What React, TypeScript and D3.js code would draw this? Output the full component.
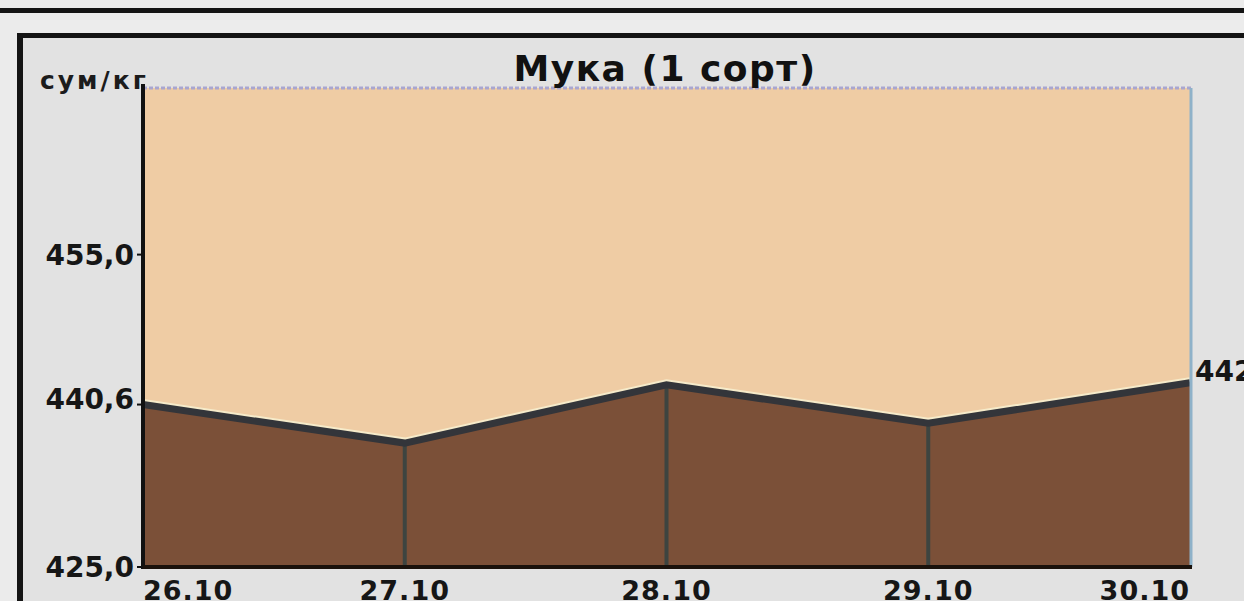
import React from 'react';
import * as d3 from 'd3';

const dates = ['26.10', '27.10', '28.10', '29.10', '30.10'];
const prices = [440.6, 436.9, 442.5, 438.8, 442.7];
const yTicks = [425.0, 440.6, 455.0];
const lastLabel = '442,7';

const W = 1244;
const H = 601;
const margin = { top: 88, right: 54, bottom: 34, left: 143 };

const fmt = (v: number) => v.toFixed(1).replace('.', ',');

const App: React.FC = () => {
  const x = d3.scalePoint<string>().domain(dates).range([margin.left, W - margin.right]);
  const y = d3.scaleLinear().domain([425, 471]).range([H - margin.bottom, margin.top]);

  const pts = dates.map((d, i) => ({ d, v: prices[i] }));

  const area = d3.area<{ d: string; v: number }>()
    .x(p => x(p.d)!)
    .y0(y(425))
    .y1(p => y(p.v));
  const line = d3.line<{ d: string; v: number }>()
    .x(p => x(p.d)!)
    .y(p => y(p.v));

  const x0 = margin.left;
  const x1 = W - margin.right;
  const yTop = margin.top;
  const yBot = H - margin.bottom;
  const font = 'DejaVu Sans, Arial, sans-serif';

  return (
    <svg width={W} height={H} style={{ position: 'absolute', left: 0, top: 0, display: 'block' }}>
      {/* paper */}
      <rect width={W} height={H} fill="#e2e2e2" />
      <rect width={W} height={34} fill="#ececec" />
      <rect x={0} y={0} width={20} height={H} fill="#ebebeb" />
      {/* frame lines */}
      <rect x={0} y={8} width={W} height={5} fill="#141414" />
      <rect x={17} y={33} width={W - 17} height={5} fill="#141414" />
      <rect x={17} y={33} width={6} height={H - 33} fill="#141414" />

      {/* plot background */}
      <rect x={x0} y={yTop} width={x1 - x0} height={yBot - yTop} fill="#efcca4" />
      <path d={area(pts) || ''} fill="#7b5038" />

      {/* drop lines */}
      {pts.slice(1, -1).map(p => (
        <line key={p.d} x1={x(p.d)} x2={x(p.d)} y1={y(p.v)} y2={yBot}
          stroke="#3d4440" strokeWidth={4} />
      ))}

      {/* series line with light halo */}
      <path d={line(pts) || ''} transform="translate(0,-3)" fill="none" stroke="#f6ebca" strokeWidth={5} />
      <path d={line(pts) || ''} fill="none" stroke="#33353a" strokeWidth={7} />

      {/* plot border */}
      <line x1={x0} x2={x1 + 2} y1={yTop} y2={yTop} stroke="#a9a6cf" strokeWidth={3} strokeDasharray="4 2" />
      <line x1={x1 + 1} x2={x1 + 1} y1={yTop} y2={yBot} stroke="#8fb2c9" strokeWidth={3} />
      <line x1={x0} x2={x0} y1={yTop - 4} y2={yBot + 2} stroke="#111" strokeWidth={4} />
      <line x1={x0} x2={x1 + 2} y1={yBot} y2={yBot} stroke="#1a120c" strokeWidth={4} />

      {/* y ticks */}
      {yTicks.map(t => (
        <g key={t}>
          <line x1={x0 - 6} x2={x0} y1={y(t)} y2={y(t)} stroke="#111" strokeWidth={2} />
          <text x={x0 - 9} y={t === yTicks[1] ? y(t) + 4 : y(t) + 10} textAnchor="end" fontFamily={font} fontWeight="bold"
            fontSize={28} fill="#161616">{fmt(t)}</text>
        </g>
      ))}

      {/* x labels */}
      {dates.map((d, i) => (
        <text key={d} x={x(d)} y={H - 1}
          textAnchor={i === 0 ? 'start' : i === dates.length - 1 ? 'end' : 'middle'}
          fontFamily={font} fontWeight="bold" fontSize={27} letterSpacing={1} fill="#161616">{d}</text>
      ))}

      {/* end value label */}
      <text x={x1 + 5} y={y(prices[prices.length - 1]) - 2} fontFamily={font} fontWeight="bold"
        fontSize={28} fill="#161616">{lastLabel}</text>

      {/* unit + title */}
      <text x={40} y={89} fontFamily={font} fontWeight="bold" fontSize={25} letterSpacing={3} fill="#1c1c1c">сум/кг</text>
      <text x={665} y={81} textAnchor="middle" fontFamily={font} fontWeight="bold"
        fontSize={36} letterSpacing={1.5} fill="#111">Мука (1 сорт)</text>
    </svg>
  );
};

export default App;
